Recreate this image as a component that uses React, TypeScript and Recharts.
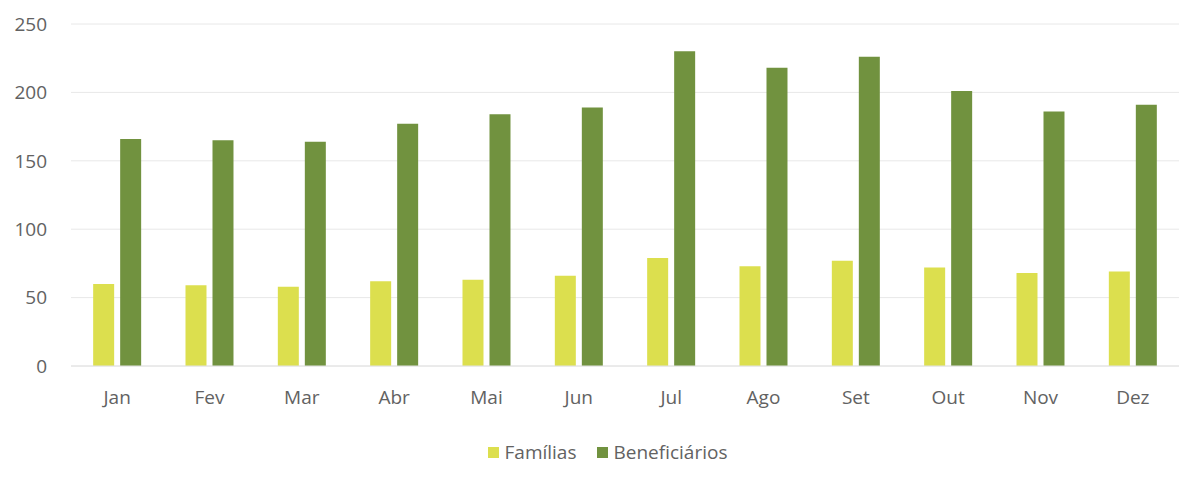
import React from "react";
import { BarChart, Bar, XAxis, YAxis, CartesianGrid, Legend } from "recharts";

const months = ["Jan", "Fev", "Mar", "Abr", "Mai", "Jun", "Jul", "Ago", "Set", "Out", "Nov", "Dez"];
const familias = [60, 59, 58, 62, 63, 66, 79, 73, 77, 72, 68, 69];
const beneficiarios = [166, 165, 164, 177, 184, 189, 230, 218, 226, 201, 186, 191];
const yTicks = [0, 50, 100, 150, 200, 250];
const seriesNames = ["Famílias", "Beneficiários"];
const seriesColors = ["#dcdf4e", "#71923f"];

const data = months.map((m, i) => ({ mes: m, [seriesNames[0]]: familias[i], [seriesNames[1]]: beneficiarios[i] }));

const FONT = "'Open Sans', sans-serif";
const TEXT = "#626262";

const LegendContent = () => (
  <div style={{ display: "flex", justifyContent: "center", alignItems: "center", fontFamily: FONT, fontSize: 19, color: TEXT, paddingLeft: 36 }}>
    {seriesNames.map((n, i) => (
      <div key={n} style={{ display: "flex", alignItems: "center", marginRight: i === 0 ? 20 : 0 }}>
        <span style={{ display: "inline-block", width: 11, height: 11, background: seriesColors[i], marginRight: 6 }} />
        <span>{n}</span>
      </div>
    ))}
  </div>
);

export default function App() {
  return (
    <div style={{ position: "absolute", left: 0, top: 0, width: 1197, height: 485, background: "#ffffff", fontFamily: FONT }}>
      <BarChart
        width={1197}
        height={485}
        data={data}
        margin={{ top: 24, right: 18, bottom: 0, left: 0 }}
        barCategoryGap="24%"
        barGap={6}
      >
        <CartesianGrid vertical={false} stroke="#e8e8e8" />
        <XAxis
          dataKey="mes"
          axisLine={{ stroke: "#e2e2e2" }}
          tickLine={false}
          tickMargin={19}
          height={93}
          tick={{ fill: TEXT, fontSize: 19, fontFamily: FONT }}
        />
        <YAxis
          domain={[0, 250]}
          ticks={yTicks}
          width={71}
          axisLine={false}
          tickLine={false}
          tickMargin={18}
          tick={{ fill: TEXT, fontSize: 19, fontFamily: FONT }}
        />
        <Legend verticalAlign="bottom" align="center" wrapperStyle={{ bottom: 20 }} content={LegendContent} />
        <Bar dataKey={seriesNames[0]} fill={seriesColors[0]} isAnimationActive={false} />
        <Bar dataKey={seriesNames[1]} fill={seriesColors[1]} isAnimationActive={false} />
      </BarChart>
    </div>
  );
}
